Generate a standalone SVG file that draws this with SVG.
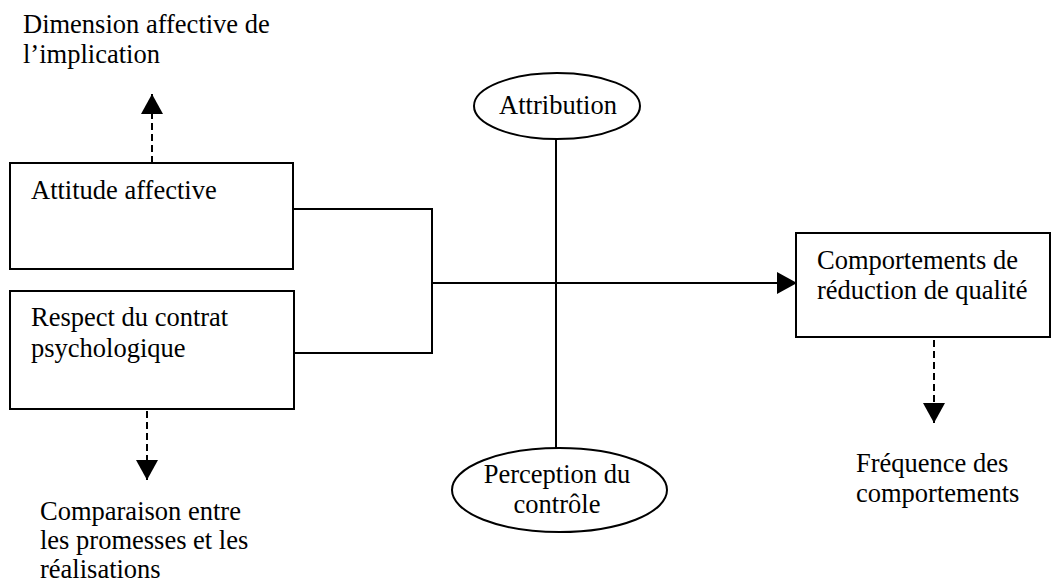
<svg xmlns="http://www.w3.org/2000/svg" width="1053" height="584" viewBox="0 0 1053 584">
<defs>
<style>
.t{font-family:"Liberation Serif","Times New Roman",serif;font-size:26.5px;fill:#000}
.m{text-anchor:middle}
.box{fill:#fff;stroke:#000;stroke-width:2}
.ln{fill:none;stroke:#000;stroke-width:2}
.dash{fill:none;stroke:#000;stroke-width:2;stroke-dasharray:7,4}
</style>
<marker id="ah" markerWidth="20" markerHeight="22" viewBox="0 0 20 22" refX="20" refY="11" orient="auto" markerUnits="userSpaceOnUse">
<path d="M0,0 L20,11 L0,22 Z" fill="#000"/>
</marker>
</defs>
<rect width="1053" height="584" fill="#fff"/>
<g id="connectors">
<polyline class="ln" points="293,209 432,209 432,353 294,353"/>
<line class="ln" x1="432" y1="283" x2="797" y2="283" marker-end="url(#ah)"/>
<line class="ln" x1="556" y1="139" x2="556" y2="448"/>
<line class="dash" x1="152" y1="163" x2="152" y2="94" marker-end="url(#ah)"/>
<line class="dash" x1="147" y1="411" x2="147" y2="480" marker-end="url(#ah)"/>
<line class="dash" x1="934" y1="340" x2="934" y2="423" marker-end="url(#ah)"/>
</g>
<g id="dimension">
<text class="t" x="23" y="33">Dimension affective de</text>
<text class="t" x="23" y="63">l’implication</text>
</g>
<g id="attitude">
<rect class="box" x="10" y="163" width="283" height="106"/>
<text class="t" x="31" y="199">Attitude affective</text>
</g>
<g id="respect">
<rect class="box" x="10" y="291" width="284" height="118"/>
<text class="t" x="31" y="326">Respect du contrat</text>
<text class="t" x="31" y="357">psychologique</text>
</g>
<g id="comparaison">
<text class="t" x="40" y="520">Comparaison entre</text>
<text class="t" x="40" y="549">les promesses et les</text>
<text class="t" x="40" y="578">réalisations</text>
</g>
<g id="attribution">
<ellipse class="box" cx="557" cy="106" rx="83" ry="33"/>
<text class="t m" x="558" y="114">Attribution</text>
</g>
<g id="perception">
<ellipse class="box" cx="559.5" cy="490" rx="107.5" ry="42"/>
<text class="t m" x="557" y="483">Perception du</text>
<text class="t m" x="557" y="513">contrôle</text>
</g>
<g id="comportements">
<rect class="box" x="796" y="233" width="254" height="104"/>
<text class="t" x="817" y="269">Comportements de</text>
<text class="t" x="817" y="299">réduction de qualité</text>
</g>
<g id="frequence">
<text class="t" x="856" y="472">Fréquence des</text>
<text class="t" x="856" y="502">comportements</text>
</g>
</svg>
